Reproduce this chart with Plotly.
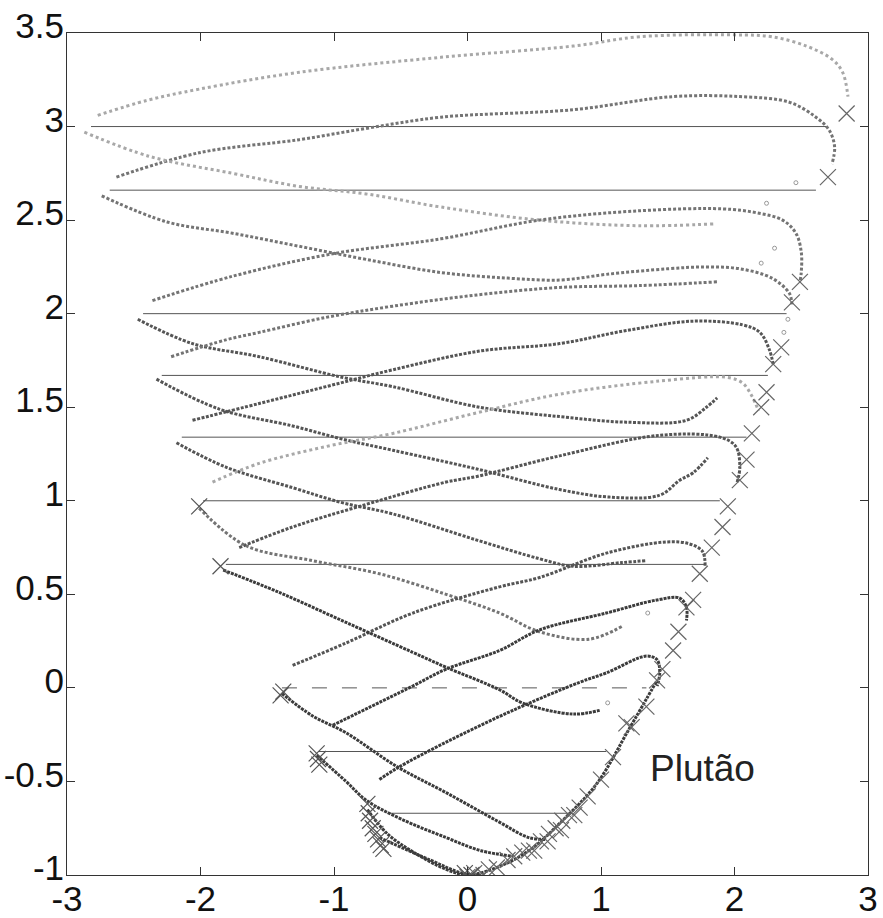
import plotly.graph_objects as go

# ---------------- data ----------------
# strands of small circles (x, y) ; shade: 0 = dark, 1 = medium, 2 = light, 3 = darkest
s1_x = [-2.77, -2.40, -2.01, -1.26, -0.20, 0.79, 1.29, 2.00, 2.28, 2.54, 2.73, 2.81, 2.85]
s1_y = [3.06, 3.14, 3.20, 3.29, 3.37, 3.43, 3.48, 3.49, 3.48, 3.43, 3.36, 3.29, 3.16]
s2_x = [-2.63, -2.01, -1.26, -0.76, -0.20, 0.79, 1.54, 2.04, 2.41, 2.61, 2.71, 2.75, 2.73]
s2_y = [2.73, 2.86, 2.93, 2.99, 3.05, 3.09, 3.16, 3.16, 3.13, 3.05, 2.98, 2.89, 2.80]
s3_x = [-2.87, -2.38, -1.76, -1.26, -0.76, -0.20, 0.54, 1.29, 1.85]
s3_y = [2.97, 2.84, 2.75, 2.68, 2.64, 2.57, 2.50, 2.47, 2.48]
s4_x = [-2.74, -2.25, -1.76, -1.26, -0.76, -0.20, 0.30, 0.70, 1.04, 1.50, 1.79, 2.04, 2.28, 2.41, 2.43]
s4_y = [2.63, 2.49, 2.43, 2.36, 2.29, 2.22, 2.19, 2.18, 2.21, 2.24, 2.25, 2.24, 2.19, 2.11, 2.05]
s5_x = [-2.36, -1.76, -1.01, -0.20, 0.54, 1.29, 1.91, 2.16, 2.36, 2.46, 2.50, 2.50, 2.49]
s5_y = [2.07, 2.20, 2.32, 2.40, 2.50, 2.55, 2.56, 2.54, 2.50, 2.43, 2.33, 2.22, 2.17]
s6_x = [-2.47, -2.06, -1.56, -0.94, -0.56, 0.09, 0.69, 1.19, 1.64, 1.79, 1.87]
s6_y = [1.97, 1.84, 1.77, 1.66, 1.61, 1.50, 1.45, 1.42, 1.43, 1.50, 1.55]
s7_x = [-2.22, -1.81, -1.56, -1.06, -0.56, 0.07, 0.69, 1.29, 1.87]
s7_y = [1.77, 1.86, 1.90, 1.98, 2.04, 2.10, 2.14, 2.15, 2.17]
s8_x = [-2.33, -1.86, -1.31, -0.94, -0.56, 0.07, 0.69, 1.06, 1.44, 1.59, 1.69, 1.80]
s8_y = [1.65, 1.49, 1.40, 1.33, 1.27, 1.17, 1.06, 1.02, 1.03, 1.11, 1.15, 1.23]
s9_x = [-2.06, -1.56, -1.06, -0.56, 0.09, 0.69, 1.19, 1.69, 2.06, 2.19, 2.26, 2.29]
s9_y = [1.43, 1.52, 1.61, 1.70, 1.80, 1.84, 1.91, 1.96, 1.94, 1.90, 1.81, 1.73]
s10_x = [-2.18, -1.81, -1.31, -0.94, -0.56, 0.07, 0.54, 0.79, 1.16, 1.34]
s10_y = [1.31, 1.18, 1.07, 0.99, 0.93, 0.79, 0.69, 0.65, 0.67, 0.68]
s11_x = [-1.91, -1.56, -1.06, -0.56, 0.07, 0.69, 1.44, 1.94, 2.06, 2.13, 2.18]
s11_y = [1.10, 1.20, 1.29, 1.36, 1.47, 1.57, 1.64, 1.66, 1.63, 1.56, 1.48]
s12_x = [-1.71, -1.31, -0.81, -0.16, 0.07, 0.69, 1.44, 1.89, 2.01, 2.04, 2.02]
s12_y = [0.75, 0.86, 0.97, 1.10, 1.13, 1.24, 1.35, 1.34, 1.29, 1.18, 1.10]
s13_x = [-2.01, -1.66, -1.16, -0.66, -0.16, 0.24, 0.54, 0.91, 1.16]
s13_y = [0.96, 0.76, 0.68, 0.61, 0.50, 0.40, 0.30, 0.26, 0.33]
s14_x = [-1.31, -0.91, -0.41, 0.24, 0.54, 1.04, 1.49, 1.66, 1.76, 1.78]
s14_y = [0.12, 0.24, 0.40, 0.54, 0.59, 0.72, 0.78, 0.77, 0.73, 0.65]
s15_x = [-1.83, -1.41, -0.91, -0.41, -0.16, 0.24, 0.41, 0.79, 0.99]
s15_y = [0.63, 0.51, 0.35, 0.19, 0.11, -0.01, -0.08, -0.14, -0.12]
s16_x = [-1.01, -0.41, -0.16, 0.24, 0.54, 1.04, 1.42, 1.59, 1.64, 1.64]
s16_y = [-0.20, 0.01, 0.10, 0.20, 0.31, 0.40, 0.47, 0.48, 0.43, 0.36]
s17_x = [-0.66, -0.53, -0.16, 0.34, 0.84, 1.04, 1.34, 1.42, 1.44, 1.42]
s17_y = [-0.49, -0.43, -0.29, -0.12, 0.03, 0.08, 0.17, 0.15, 0.08, 0.01]
s18_x = [-1.39, -1.16, -0.91, -0.53, -0.16, 0.22, 0.46, 0.59]
s18_y = [-0.03, -0.15, -0.24, -0.42, -0.56, -0.71, -0.80, -0.81]
s19_x = [-1.13, -0.91, -0.76, -0.50, -0.16, 0.10, 0.34]
s19_y = [-0.36, -0.50, -0.60, -0.70, -0.80, -0.87, -0.90]
s20_x = [-0.75, -0.60, -0.40, -0.16, 0.00, 0.22, 0.46, 0.71, 0.97, 1.21, 1.34, 1.42]
s20_y = [-0.65, -0.78, -0.88, -0.97, -1.00, -0.96, -0.87, -0.71, -0.51, -0.22, -0.06, 0.04]
s21_x = [-0.66, -0.28, -0.04, 0.10]
s21_y = [-0.80, -0.92, -0.99, -1.00]

strands = [
    (s1_x, s1_y, 2), (s2_x, s2_y, 1), (s3_x, s3_y, 2), (s4_x, s4_y, 1),
    (s5_x, s5_y, 1), (s6_x, s6_y, 0), (s7_x, s7_y, 1), (s8_x, s8_y, 0),
    (s9_x, s9_y, 0), (s10_x, s10_y, 0), (s11_x, s11_y, 2), (s12_x, s12_y, 0),
    (s13_x, s13_y, 1), (s14_x, s14_y, 0), (s15_x, s15_y, 3), (s16_x, s16_y, 3),
    (s17_x, s17_y, 3), (s18_x, s18_y, 3), (s19_x, s19_y, 3), (s20_x, s20_y, 3),
    (s21_x, s21_y, 3),
]

# faint isolated circles
faint_x = [2.24, 2.46, 2.30, 2.20, 2.40, 2.37, 1.35, 1.05]
faint_y = [2.59, 2.70, 2.35, 2.27, 1.97, 1.90, 0.40, -0.08]

# horizontal lines: y level, left end, right end
hl_y = [3.0, 2.66, 2.0, 1.67, 1.34, 1.0, 0.66, 0.0, -0.34, -0.67]
hl_x0 = [-2.82, -2.68, -2.43, -2.29, -2.14, -1.98, -1.81, -1.39, -1.12, -0.60]
hl_x1 = [2.69, 2.61, 2.39, 2.25, 2.09, 1.89, 1.78, 1.34, 1.04, 0.78]

# X markers along the right envelope
xr_x = [2.84, 2.70, 2.49, 2.43, 2.35, 2.29, 2.24, 2.20, 2.13, 2.09, 2.04, 1.95, 1.91, 1.83,
        1.74, 1.69, 1.64, 1.58, 1.54, 1.46, 1.42, 1.34, 1.23, 1.19, 1.09, 1.00, 0.90, 0.84,
        0.76, 0.71, 0.66, 0.61, 0.55, 0.46, 0.41, 0.30, 0.22, 0.16, 0.05, 0.00,
        0.12, 0.35, 0.50, 0.60, 0.70, 0.80]
xr_y = [3.07, 2.73, 2.17, 2.06, 1.82, 1.73, 1.58, 1.50, 1.36, 1.22, 1.11, 0.97, 0.86, 0.75,
        0.61, 0.47, 0.43, 0.30, 0.20, 0.10, 0.04, -0.10, -0.21, -0.19, -0.37, -0.49, -0.58, -0.64,
        -0.68, -0.71, -0.75, -0.78, -0.82, -0.87, -0.88, -0.92, -0.96, -0.97, -0.99, -1.01,
        -1.00, -0.90, -0.87, -0.82, -0.76, -0.68]
# X markers on the left turning points
xl_x = [-2.01, -1.85, -1.40, -1.38, -1.13, -1.12, -1.11, -0.75, -0.74, -0.73, -0.71,
        -0.69, -0.67, -0.65, -0.63, -0.02, 0.03]
xl_y = [0.97, 0.65, -0.04, -0.02, -0.35, -0.38, -0.41, -0.62, -0.67, -0.71, -0.75,
        -0.78, -0.81, -0.84, -0.86, -0.99, -1.00]

x_ticks = [-3, -2, -1, 0, 1, 2, 3]
x_labels = ["-3", "-2", "-1", "0", "1", "2", "3"]
y_ticks = [-1, -0.5, 0, 0.5, 1, 1.5, 2, 2.5, 3, 3.5]
y_labels = ["-1", "-0.5", "0", "0.5", "1", "1.5", "2", "2.5", "3", "3.5"]

label_text = "Plutão"
label_x, label_y = 1.35, -0.43

# ---------------- figure ----------------
shade_col = {0: "#555555", 1: "#747474", 2: "#a8a8a8", 3: "#3c3c3c"}
shade_dash = {0: "3px,1.5px", 1: "3px,2px", 2: "3px,3px", 3: "3px,1px"}

fig = go.Figure()

for y0, a, b in zip(hl_y, hl_x0, hl_x1):
    fig.add_trace(go.Scatter(
        x=[a, b], y=[y0, y0], mode="lines",
        line=dict(color="#555555", width=1, dash="longdash" if y0 == 0 else "solid"),
        hoverinfo="skip", showlegend=False))

for sx, sy, sh in strands:
    fig.add_trace(go.Scatter(
        x=sx, y=sy, mode="lines",
        line=dict(color=shade_col[sh], width=3, dash=shade_dash[sh], shape="spline", smoothing=1.0),
        hoverinfo="skip", showlegend=False))

fig.add_trace(go.Scatter(
    x=faint_x, y=faint_y, mode="markers",
    marker=dict(symbol="circle-open", size=4, color="#999999", line=dict(width=1)),
    showlegend=False, hoverinfo="skip"))

fig.add_trace(go.Scatter(
    x=xr_x, y=xr_y, mode="markers",
    marker=dict(symbol="x-thin-open", size=16, color="#666666", line=dict(width=1.2, color="#666666")),
    showlegend=False, hoverinfo="skip"))
fig.add_trace(go.Scatter(
    x=xl_x, y=xl_y, mode="markers",
    marker=dict(symbol="x-thin-open", size=16, color="#555555", line=dict(width=1.2, color="#555555")),
    showlegend=False, hoverinfo="skip"))

fig.add_annotation(x=label_x, y=label_y, text=label_text, showarrow=False,
                   xanchor="left", yanchor="middle",
                   font=dict(size=37, color="#222222", family="Liberation Sans, Arial, sans-serif"))

axis_common = dict(showgrid=False, zeroline=False, showline=True, linecolor="#333333", linewidth=1,
                   mirror="ticks", ticks="inside", ticklen=8, tickcolor="#333333", automargin=False,
                   tickfont=dict(size=35, color="#111111", family="Liberation Sans, Arial, sans-serif"))

fig.update_layout(
    width=883, height=918, autosize=False,
    margin=dict(l=67, r=15, t=33, b=43),
    paper_bgcolor="white", plot_bgcolor="white",
    xaxis=dict(range=[-3, 3], tickvals=x_ticks, ticktext=x_labels, ticklabelstandoff=-7, **axis_common),
    yaxis=dict(range=[-1, 3.5], tickvals=y_ticks, ticktext=y_labels, ticklabelstandoff=-5,
               ticklabelshift=-7, **axis_common),
)

fig.write_html("out.html")
